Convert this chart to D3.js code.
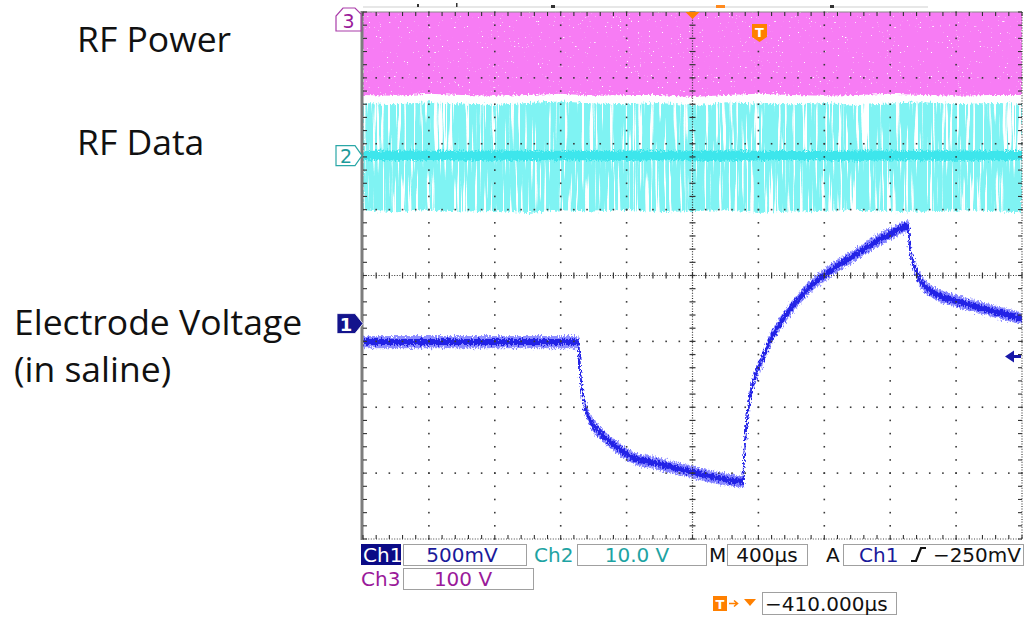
<!DOCTYPE html>
<html>
<head>
<meta charset="utf-8">
<title>RF link scope capture</title>
<script src="https://cdn.jsdelivr.net/npm/d3@7"></script>
<style>
    body { margin: 0; background: #fff; }
    svg { display: block; }
    .side-label { font-family: "Open Sans", sans-serif; font-size: 35.5px; fill: #111; }
    .readout { font-family: "DejaVu Sans", sans-serif; font-size: 20px; }
</style>
</head>
<body>
<svg id="scope" width="1027" height="621"></svg>
<script>
const timebase = 400;          // µs / div
const divisions = 10;

// channel settings: volts per division, marker position (div from centre)
const ch1Scale = 0.5, ch1Pos = -0.73;
const ch2Scale = 10,  ch2Pos = 1.82;
const ch3Scale = 100, ch3Pos = 4.4;

// Ch1 electrode voltage (µs, V)
const ch1Time = [0, 1305, 1323, 1335, 1378, 1439, 1542, 1639, 1742, 1942, 2149, 2307,
    2313, 2331, 2349, 2392, 2428, 2470, 2531, 2634, 2731, 2792, 2895, 2998, 3096, 3199, 3308,
    3320, 3363, 3442, 3606, 3806, 4000];
const ch1Volts = [-0.14, -0.14, -0.43, -0.56, -0.73, -0.83, -0.94, -1.02, -1.05, -1.11, -1.17, -1.20,
    -1.02, -0.73, -0.56, -0.36, -0.26, -0.13, 0.0, 0.17, 0.30, 0.36, 0.45, 0.53, 0.61, 0.68, 0.74,
    0.57, 0.38, 0.25, 0.17, 0.10, 0.04];

// envelopes of the RF channels, sampled every 200 µs
const envTime = d3.range(0, 4001, 200);
const ch2Upper = [8.0, 7.8, 8.1, 7.9, 7.7, 8.0, 8.2, 7.9, 7.8, 8.0, 7.6, 8.1, 7.9, 7.8, 8.0, 7.7, 7.9, 8.1, 7.8, 8.0, 7.9];
const ch2Lower = [-8.3, -8.6, -8.2, -8.5, -8.4, -8.7, -8.3, -8.5, -8.2, -8.6, -8.4, -8.3, -8.7, -8.5, -8.4, -8.2, -8.6, -8.5, -8.3, -8.4, -8.6];
const ch2Core  = [0.7, 0.8, 0.7, 0.75, 0.8, 0.7, 0.75, 0.7, 0.8, 0.75, 0.7, 0.8, 0.75, 0.7, 0.7, 0.8, 0.75, 0.7, 0.8, 0.7, 0.75];
const ch3Lower = [-166, -167, -164, -166, -167, -166, -164, -167, -166, -166, -169, -166, -164, -166, -167, -166, -164, -166, -167, -166, -166];
const ch3Upper = 60;

// labels
const sideLabels = ['RF Power', 'RF Data', 'Electrode Voltage', '(in saline)'];
const ch1Readout = '500mV', ch2Readout = '10.0 V', ch3Readout = '100 V';
const timeReadout = '400µs', trigLevel = '−250mV', trigDelay = '−410.000µs';

// ---- layout ----
const plot = { left: 363, right: 1022, top: 12, bottom: 539 };
const noiseOuter = 0.042;      // half-widths of the ch1 noise band (V)
const noiseInner = 0.018;

const svg = d3.select('#scope');
const x = d3.scaleLinear().domain([0, timebase * divisions]).range([plot.left, plot.right]);
const yDiv = d3.scaleLinear().domain([-4, 4]).range([plot.bottom, plot.top]);
const chY = (scale, pos) => v => yDiv(v / scale + pos);
const y1 = chY(ch1Scale, ch1Pos), y2 = chY(ch2Scale, ch2Pos), y3 = chY(ch3Scale, ch3Pos);

const defs = svg.append('defs');
defs.append('clipPath').attr('id', 'screen').append('rect')
    .attr('x', plot.left).attr('y', plot.top)
    .attr('width', plot.right - plot.left).attr('height', plot.bottom - plot.top);

function filter(id, box) {
    return defs.append('filter').attr('id', id).attr('filterUnits', 'userSpaceOnUse')
        .attr('x', box[0]).attr('y', box[1]).attr('width', box[2]).attr('height', box[3]);
}

// magenta band: ragged edge + white speckles
const f3 = filter('ch3Tex', [340, -20, 700, 140]);
f3.append('feTurbulence').attr('type', 'fractalNoise').attr('baseFrequency', '0.6 0.4')
    .attr('numOctaves', 1).attr('seed', 3).attr('result', 'jit');
f3.append('feDisplacementMap').attr('in', 'SourceGraphic').attr('in2', 'jit').attr('scale', 6)
    .attr('xChannelSelector', 'R').attr('yChannelSelector', 'G').attr('result', 'band');
f3.append('feTurbulence').attr('type', 'fractalNoise').attr('baseFrequency', '0.55 0.8')
    .attr('numOctaves', 1).attr('seed', 8).attr('result', 'n');
f3.append('feColorMatrix').attr('in', 'n').attr('type', 'matrix')
    .attr('values', '0 0 0 0 1  0 0 0 0 1  0 0 0 0 1  14 0 0 0 -9.9').attr('result', 'dots');
f3.append('feComposite').attr('in', 'dots').attr('in2', 'band').attr('operator', 'in').attr('result', 'd');
const m3 = f3.append('feMerge');
m3.append('feMergeNode').attr('in', 'band');
m3.append('feMergeNode').attr('in', 'd');

// cyan band: vertical white gaps between pulses
const f2 = filter('ch2Tex', [340, 80, 700, 150]);
f2.append('feTurbulence').attr('type', 'fractalNoise').attr('baseFrequency', '0.45 0.012')
    .attr('numOctaves', 2).attr('seed', 11).attr('result', 'noise');
f2.append('feColorMatrix').attr('in', 'noise').attr('type', 'matrix')
    .attr('values', '0 0 0 0 0  0 0 0 0 0  0 0 0 0 0  10 0 0 0 -3.4').attr('result', 'mask');
f2.append('feTurbulence').attr('type', 'fractalNoise').attr('baseFrequency', '0.7 0.3')
    .attr('numOctaves', 1).attr('seed', 5).attr('result', 'jit');
f2.append('feDisplacementMap').attr('in', 'SourceGraphic').attr('in2', 'jit').attr('scale', 8)
    .attr('xChannelSelector', 'R').attr('yChannelSelector', 'G').attr('result', 'band');
f2.append('feComposite').attr('in', 'band').attr('in2', 'mask').attr('operator', 'in');

// jitter for the core of ch2 and for ch1
const fj = filter('jitter', [340, 0, 700, 560]);
fj.append('feTurbulence').attr('type', 'fractalNoise').attr('baseFrequency', '0.7 0.35')
    .attr('numOctaves', 2).attr('seed', 4).attr('result', 'jit');
fj.append('feDisplacementMap').attr('in', 'SourceGraphic').attr('in2', 'jit').attr('scale', 7)
    .attr('xChannelSelector', 'R').attr('yChannelSelector', 'G');

const screen = svg.append('g').attr('clip-path', 'url(#screen)');

// ---- RF power (ch3) ----
const idx = d3.range(envTime.length);
screen.append('path')
    .attr('d', d3.area().x(i => x(envTime[i])).y0(i => y3(ch3Lower[i])).y1(() => y3(ch3Upper))(idx))
    .attr('fill', '#f77cf4')
    .attr('filter', 'url(#ch3Tex)');

// ---- RF data (ch2) ----
screen.append('path')
    .attr('d', d3.area().x(i => x(envTime[i])).y0(i => y2(ch2Lower[i])).y1(i => y2(ch2Upper[i]))(idx))
    .attr('fill', '#7ff3f3')
    .attr('filter', 'url(#ch2Tex)');
screen.append('path')
    .attr('d', d3.area().x(i => x(envTime[i])).y0(i => y2(-ch2Core[i])).y1(i => y2(ch2Core[i])).curve(d3.curveBasis)(idx))
    .attr('fill', '#3ce6ec')
    .attr('filter', 'url(#jitter)');

// ---- graticule ----
const grid = svg.append('g').attr('class', 'graticule');
const minorX = d3.range(0, divisions * 5 + 1).map(k => x(k * timebase / 5));
const minorY = d3.range(-20, 21).map(k => yDiv(k / 5));
const majorX = d3.range(1, divisions).filter(i => i !== 5).map(i => x(i * timebase));
const majorY = [-3, -2, -1, 1, 2, 3].map(yDiv);
const cx = x(timebase * divisions / 2), cy = yDiv(0);

const dots = [];
majorX.forEach(gx => minorY.forEach(gy => dots.push([gx, gy])));
majorY.forEach(gy => minorX.forEach(gx => dots.push([gx, gy])));
grid.selectAll('rect.dot').data(dots).join('rect').attr('class', 'dot')
    .attr('x', d => d[0] - 0.8).attr('y', d => d[1] - 0.8)
    .attr('width', 1.6).attr('height', 1.6).attr('fill', '#3a3a3a');

// centre cross, finely dotted with minor ticks
grid.append('line').attr('x1', cx).attr('x2', cx).attr('y1', plot.top).attr('y2', plot.bottom)
    .attr('stroke', '#333').attr('stroke-width', 1.2).attr('stroke-dasharray', '1 1.6');
grid.append('line').attr('x1', plot.left).attr('x2', plot.right).attr('y1', cy).attr('y2', cy)
    .attr('stroke', '#333').attr('stroke-width', 1.2).attr('stroke-dasharray', '1 1.6');
grid.selectAll('line.tx').data(minorX).join('line').attr('class', 'tx')
    .attr('x1', d => d).attr('x2', d => d).attr('y1', cy - 3).attr('y2', cy + 3)
    .attr('stroke', '#333').attr('stroke-width', 1.2);
grid.selectAll('line.ty').data(minorY).join('line').attr('class', 'ty')
    .attr('y1', d => d).attr('y2', d => d).attr('x1', cx - 3).attr('x2', cx + 3)
    .attr('stroke', '#333').attr('stroke-width', 1.2);

// frame with inward ticks
grid.append('line').attr('x1', plot.left).attr('x2', plot.right).attr('y1', plot.top).attr('y2', plot.top)
    .attr('stroke', '#8a8a8a').attr('stroke-width', 1.2);
grid.append('line').attr('x1', plot.left).attr('x2', plot.right).attr('y1', plot.bottom).attr('y2', plot.bottom)
    .attr('stroke', '#444').attr('stroke-width', 1.2).attr('stroke-dasharray', '1 1.6');
grid.append('line').attr('x1', plot.right).attr('x2', plot.right).attr('y1', plot.top).attr('y2', plot.bottom)
    .attr('stroke', '#444').attr('stroke-width', 1.2).attr('stroke-dasharray', '1 1.6');
grid.append('rect').attr('x', plot.left - 2.5).attr('y', plot.top - 1).attr('width', 3)
    .attr('height', plot.bottom - plot.top + 2).attr('fill', '#7d7d7d');
const edgeTicks = [];
minorX.forEach(v => { edgeTicks.push([v, plot.top, v, plot.top + 4]); edgeTicks.push([v, plot.bottom - 4, v, plot.bottom]); });
minorY.forEach(v => { edgeTicks.push([plot.left, v, plot.left + 4, v]); edgeTicks.push([plot.right - 4, v, plot.right, v]); });
grid.selectAll('line.edge').data(edgeTicks).join('line').attr('class', 'edge')
    .attr('x1', d => d[0]).attr('y1', d => d[1]).attr('x2', d => d[2]).attr('y2', d => d[3])
    .attr('stroke', '#333').attr('stroke-width', 1.1);

// ---- electrode voltage (ch1): noisy band with a denser core ----
const ch1Idx = d3.range(ch1Time.length);
const ch1Band = half => d3.area().x(i => x(ch1Time[i]))
    .y0(i => y1(ch1Volts[i] - half)).y1(i => y1(ch1Volts[i] + half))
    .curve(d3.curveMonotoneX)(ch1Idx);
screen.append('path')
    .attr('d', ch1Band(noiseOuter))
    .attr('fill', '#6464ff').attr('fill-opacity', 0.75)
    .attr('stroke', '#7070ff').attr('stroke-width', 1.2).attr('stroke-opacity', 0.6)
    .attr('filter', 'url(#jitter)');
screen.append('path')
    .attr('d', ch1Band(noiseInner))
    .attr('fill', '#2424e6')
    .attr('stroke', '#2424e6').attr('stroke-width', 1.4)
    .attr('filter', 'url(#jitter)');

// ---- top record strip and markers ----
svg.append('line').attr('x1', plot.left).attr('x2', 928).attr('y1', 7).attr('y2', 7)
    .attr('stroke', '#cfcfcf');
[[417, 4, 2, 3], [456, 3, 1.5, 4], [551, 5, 4, 3], [830, 5, 4, 3]].forEach(r =>
    svg.append('rect').attr('x', r[0]).attr('y', r[1]).attr('width', r[2]).attr('height', r[3]).attr('fill', '#333'));
svg.append('rect').attr('x', 716).attr('y', 5).attr('width', 9).attr('height', 3).attr('fill', '#ff8a1e');

const orange = '#ff8000';
svg.append('path').attr('d', `M${cx - 7},${plot.top} L${cx + 7},${plot.top} L${cx},${plot.top + 7} Z`).attr('fill', orange);
svg.append('path').attr('d', 'M752,24 H767 V37 L759.5,42 L752,37 Z').attr('fill', orange);
svg.append('text').attr('x', 759.5).attr('y', 37).attr('text-anchor', 'middle')
    .attr('font-family', 'DejaVu Sans').attr('font-weight', 'bold').attr('font-size', 13)
    .attr('fill', '#fff').text('T');

// channel ground markers
const markerY = [y1(0), y2(0)];
svg.append('path')
    .attr('d', `M337,${markerY[0] - 10} H355 L363,${markerY[0]} L355,${markerY[0] + 10} H337 Z`)
    .attr('fill', '#14148c').attr('stroke', '#fff').attr('stroke-width', 0.8);
svg.append('text').attr('x', 346).attr('y', markerY[0] + 7).attr('text-anchor', 'middle')
    .attr('font-family', 'DejaVu Sans').attr('font-weight', 'bold').attr('font-size', 18)
    .attr('fill', '#fff').text('1');
svg.append('path')
    .attr('d', `M336,${markerY[1] - 10} H355 L362,${markerY[1]} L355,${markerY[1] + 10} H336 Z`)
    .attr('fill', '#fff').attr('stroke', '#2aa7a7').attr('stroke-width', 1.2);
svg.append('text').attr('x', 346).attr('y', markerY[1] + 7).attr('text-anchor', 'middle')
    .attr('font-family', 'DejaVu Sans').attr('font-size', 19).attr('fill', '#1d9a9a').text('2');
svg.append('path').attr('d', 'M336,31 V16 L343,8 H355 L361,14 V31 Z')
    .attr('fill', '#fff').attr('stroke', '#a93ca9').attr('stroke-width', 1.2);
svg.append('text').attr('x', 348.5).attr('y', 28).attr('text-anchor', 'middle')
    .attr('font-family', 'DejaVu Sans').attr('font-size', 19).attr('fill', '#9a1a9a').text('3');

// trigger level arrow on the right
const trigY = y1(-0.25);
svg.append('path')
    .attr('d', `M1005,${trigY} L1014,${trigY - 6} V${trigY - 1.5} H1021 V${trigY + 1.5} H1014 V${trigY + 6} Z`)
    .attr('fill', '#1818a8');

// ---- side labels ----
const sideX = [77, 77, 14, 14], sideBase = [52, 155, 335, 382];
svg.selectAll('text.side-label').data(sideLabels).join('text').attr('class', 'side-label')
    .attr('x', (d, i) => sideX[i]).attr('y', (d, i) => sideBase[i]).text(d => d);

// ---- readout bar ----
const bar = svg.append('g').attr('class', 'readout');
function box(x0, x1, top, h) {
    bar.append('rect').attr('x', x0 + 0.5).attr('y', top + 0.5).attr('width', x1 - x0).attr('height', h)
        .attr('fill', '#fff').attr('stroke', '#a0a0a0');
}
function label(txt, xp, base, color, anchor) {
    bar.append('text').attr('x', xp).attr('y', base).attr('fill', color)
        .attr('text-anchor', anchor || 'start').text(txt);
}
const navy = '#1a1a9a', teal = '#1ea3a3', purple = '#9a1a9a';
bar.append('rect').attr('x', 361).attr('y', 544).attr('width', 40).attr('height', 21).attr('fill', '#0b0b86');
label('Ch1', 363, 562, '#fff');
box(403, 526, 544, 21); label(ch1Readout, 462, 562, navy, 'middle');
label('Ch2', 534, 562, teal);
box(577, 706, 544, 21); label(ch2Readout, 637, 562, teal, 'middle');
label('M', 709, 562, '#111');
box(727, 807, 544, 21); label(timeReadout, 767, 562, '#111', 'middle');
label('A', 826, 562, '#111');
box(843, 1023, 544, 21); label('Ch1', 859, 562, navy);
bar.append('path').attr('d', 'M911,561 H916 L921,548 H926').attr('fill', 'none')
    .attr('stroke', '#111').attr('stroke-width', 2.2);
label(trigLevel, 1021, 562, '#111', 'end');
label('Ch3', 361, 586, purple);
box(403, 533, 568, 21); label(ch3Readout, 463, 586, purple, 'middle');
bar.append('rect').attr('x', 713).attr('y', 596).attr('width', 14).attr('height', 15).attr('fill', orange);
bar.append('text').attr('x', 720).attr('y', 609).attr('text-anchor', 'middle').attr('font-size', 13)
    .attr('font-weight', 'bold').attr('fill', '#fff').text('T');
bar.append('path').attr('d', 'M729,603.5 H737 M734,600.5 L737.5,603.5 L734,606.5').attr('fill', 'none')
    .attr('stroke', orange).attr('stroke-width', 1.6);
bar.append('path').attr('d', 'M744,599 H756 L750,606 Z').attr('fill', orange);
box(762, 896, 592, 22); label(trigDelay, 765, 611, '#111');
</script>
</body>
</html>
